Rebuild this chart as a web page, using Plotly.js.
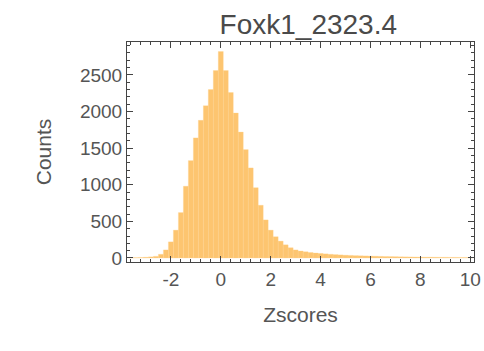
<!DOCTYPE html>
<html>
<head>
<meta charset="utf-8">
<script src="https://cdn.plot.ly/plotly-3.0.1.min.js"></script>
<style>html,body{margin:0;padding:0;background:#fff;}#chart{width:484px;height:351px;}</style>
</head>
<body>
<div id="chart"></div>
<script>
// Histogram bins (centers, width 0.2) and counts
const binCenters = [-3.6,-3.4,-3.2,-3.0,-2.8,-2.6,-2.4,-2.2,-2.0,-1.8,-1.6,-1.4,-1.2,-1.0,-0.8,-0.6,-0.4,-0.2,
  0.0,0.2,0.4,0.6,0.8,1.0,1.2,1.4,1.6,1.8,2.0,2.2,2.4,2.6,2.8,3.0,3.2,3.4,3.6,3.8,4.0,4.2,4.4,4.6,4.8,
  5.0,5.2,5.4,5.6,5.8,6.0,6.2,6.4,6.6,6.8,7.0,7.2,7.4,7.6,7.8,8.0,8.2,8.4,8.6,8.8,9.0,9.2,9.4,9.6,9.8,10.0];
const counts = [3,5,7,10,15,22,50,110,220,380,620,980,1330,1640,1880,2080,2300,2560,
  2820,2560,2260,1980,1720,1480,1230,960,720,520,380,290,230,180,140,110,95,85,75,68,62,56,50,46,42,
  38,35,32,30,28,26,24,22,20,19,18,16,15,14,13,12,11,11,10,9,9,8,8,7,7,6];
const binWidth = 0.2;
const xTickVals = [-2,0,2,4,6,8,10];
const yTickVals = [0,500,1000,1500,2000,2500];

const font = "Liberation Sans, Arial, sans-serif";
const trace = {
  type: 'bar',
  x: binCenters,
  y: counts,
  width: binCenters.map(() => binWidth),
  marker: {color: 'rgb(253,197,112)', line: {color: 'rgb(254,210,140)', width: 0.3}},
  hoverinfo: 'x+y'
};
const axisCommon = {
  showline: true, linecolor: '#444', linewidth: 1, mirror: 'ticks',
  ticks: 'inside', ticklen: 6, tickcolor: '#444', tickwidth: 1,
  showgrid: false, zeroline: false,
  tickfont: {family: font, size: 19, color: '#555'}
};
const layout = {
  width: 484, height: 351,
  margin: {l: 127, r: 10, t: 42, b: 89},
  paper_bgcolor: '#fff', plot_bgcolor: '#fff',
  bargap: 0,
  showlegend: false,
  title: {text: 'Foxk1_2323.4', font: {family: font, size: 28, color: '#4a4a4a'},
    x: 0.637, xref: 'container', xanchor: 'center', y: 0.932, yref: 'container', yanchor: 'middle'},
  xaxis: Object.assign({}, axisCommon, {
    range: [-3.76, 10.15], tickvals: xTickVals, ticktext: xTickVals.map(String),
    minor: {dtick: 0.4, tick0: 0, ticks: 'inside', ticklen: 3, tickcolor: '#444'},
    title: {text: 'Zscores', font: {family: font, size: 21, color: '#555'}, standoff: 18}
  }),
  yaxis: Object.assign({}, axisCommon, {
    range: [-55, 2950], tickvals: yTickVals, ticktext: yTickVals.map(String),
    minor: {dtick: 100, tick0: 0, ticks: 'inside', ticklen: 3, tickcolor: '#444'},
    title: {text: 'Counts', font: {family: font, size: 21, color: '#555'}, standoff: 22}
  })
};
Plotly.newPlot('chart', [trace], layout, {displayModeBar: false, staticPlot: true});
</script>
</body>
</html>
